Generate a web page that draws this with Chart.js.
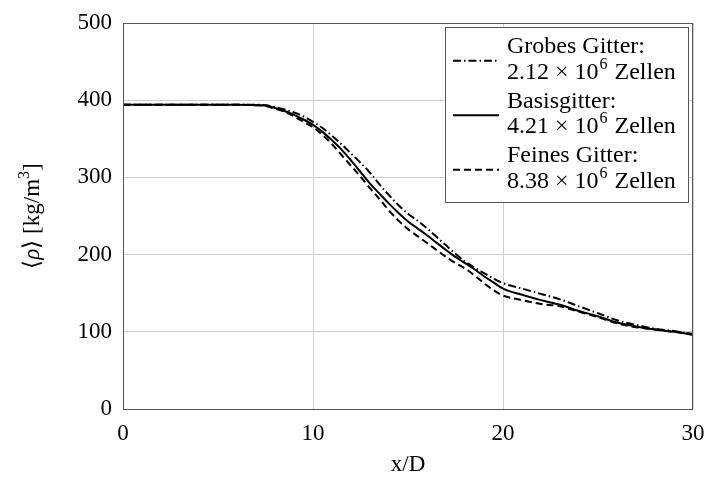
<!DOCTYPE html>
<html>
<head>
<meta charset="utf-8">
<script src="https://cdn.jsdelivr.net/npm/chart.js@4/dist/chart.umd.min.js"></script>
<style>
  html, body { margin: 0; padding: 0; background: #fff; }
  canvas { display: block; }
</style>
</head>
<body>
<canvas id="c" width="707" height="485"></canvas>
<script>
// ---- data ----
const xValues = [0, 2, 4, 6, 7, 7.5, 8, 8.5, 9, 9.5, 10, 10.5, 11, 11.5, 12, 12.5, 13, 13.5, 14, 14.5,
  15, 15.5, 16, 16.5, 17, 17.5, 18, 18.5, 19, 19.5, 20, 21, 22, 23, 24, 25, 26, 27, 28, 29, 30];
const coarseGrid = [394, 394, 394, 394, 394, 393.5, 391, 388, 384, 379, 372, 364, 354, 343, 331, 319, 306, 291, 277, 264,
  253, 244, 234, 223, 212, 201, 191, 183, 176, 169, 163, 156, 149, 142, 133, 124, 115, 109, 104, 101, 97];
const baseGrid = [394, 394, 394, 394, 393.5, 393, 390, 386, 381, 375, 368, 359, 348, 336, 322, 307, 292, 279, 266, 254,
  243, 234, 225, 215.5, 206, 197, 189, 181, 172, 164, 156, 148, 141, 135, 127, 120, 112, 107, 103, 100, 96];
const fineGrid = [394, 394, 394, 394, 393.5, 392.5, 389, 385, 379, 372, 365, 355, 343, 329, 315, 301, 286, 272, 257, 244,
  233, 224, 215, 206, 197, 189, 182, 173, 163, 154, 147, 141, 136, 133, 126, 119, 111, 106, 103, 100, 97];

const seriesNames = ['Grobes Gitter:', 'Basisgitter:', 'Feines Gitter:'];
const cellCounts = ['2.12', '4.21', '8.38'];
const cellExponent = '6';
const cellUnit = 'Zellen';
const xTicks = [0, 10, 20, 30];
const yTicks = [0, 100, 200, 300, 400, 500];
const xTitle = 'x/D';
// y title pieces: ⟨ρ⟩ [kg/m³]
const yTitleParts = [
  { t: '\u27E8', s: 'n' }, { t: '\u03C1', s: 'i' }, { t: '\u27E9 [kg/m', s: 'n' }, { t: '3', s: 'sup' }, { t: ']', s: 'n' }
];

// ---- build ----
const FONT = "'Liberation Serif', 'Times New Roman', serif";
const toPts = ys => xValues.map((x, i) => ({ x: x, y: ys[i] }));

const dashes = [[8, 3, 1.5, 3], [], [7, 4]];
const seriesData = [coarseGrid, baseGrid, fineGrid];

const datasets = seriesData.map((d, i) => ({
  label: seriesNames[i],
  data: toPts(d),
  borderColor: '#000',
  borderWidth: 2,
  borderDash: dashes[i],
  pointRadius: 0,
  cubicInterpolationMode: 'monotone',
  fill: false
}));

const frameAndLegend = {
  id: 'frameAndLegend',
  afterDraw(chart) {
    const { ctx, chartArea: a } = chart;
    ctx.save();
    // plot frame
    ctx.strokeStyle = '#555';
    ctx.lineWidth = 1;
    ctx.setLineDash([]);
    ctx.strokeRect(Math.round(a.left) + 0.5, Math.round(a.top) + 0.5,
      Math.round(a.right - a.left) - 1, Math.round(a.bottom - a.top));

    // y axis title (rotated, mixed styles)
    const fontFor = s => s === 'i' ? 'italic 23px ' + FONT : (s === 'sup' ? '16px ' + FONT : '23px ' + FONT);
    let total = 0;
    yTitleParts.forEach(p => { ctx.font = fontFor(p.s); total += ctx.measureText(p.t).width; });
    ctx.translate(33, (a.top + a.bottom) / 2);
    ctx.rotate(-Math.PI / 2);
    ctx.fillStyle = '#000';
    ctx.textBaseline = 'middle';
    ctx.textAlign = 'left';
    let px = -total / 2;
    yTitleParts.forEach(p => {
      ctx.font = fontFor(p.s);
      ctx.fillText(p.t, px, p.s === 'sup' ? -8 : 0);
      px += ctx.measureText(p.t).width;
    });
    ctx.setTransform(1, 0, 0, 1, 0, 0);

    // legend box
    const bx = a.right - 248, by = a.top + 4, bw = 243, bh = 175;
    ctx.fillStyle = '#fff';
    ctx.fillRect(bx, by, bw, bh);
    ctx.strokeStyle = '#555';
    ctx.lineWidth = 1;
    ctx.strokeRect(bx + 0.5, by + 0.5, bw, bh);
    chart.data.datasets.forEach((ds, i) => {
      const y1 = by + 20 + i * 54.5;
      const y2 = y1 + 25.5;
      const ly = (y1 + y2) / 2 + 1;
      ctx.strokeStyle = ds.borderColor;
      ctx.lineWidth = ds.borderWidth;
      ctx.setLineDash(ds.borderDash || []);
      ctx.beginPath();
      ctx.moveTo(bx + 8, ly);
      ctx.lineTo(bx + 54, ly);
      ctx.stroke();
      ctx.setLineDash([]);
      ctx.fillStyle = '#000';
      ctx.textBaseline = 'middle';
      ctx.textAlign = 'left';
      ctx.font = '24px ' + FONT;
      const tx = bx + 62;
      ctx.fillText(seriesNames[i], tx, y1);
      const part1 = cellCounts[i] + ' \u00D7 10';
      ctx.fillText(part1, tx, y2);
      let w = ctx.measureText(part1).width;
      ctx.font = '16px ' + FONT;
      ctx.fillText(cellExponent, tx + w + 1, y2 - 8);
      const we = ctx.measureText(cellExponent).width;
      ctx.font = '24px ' + FONT;
      ctx.fillText(' ' + cellUnit, tx + w + we + 2, y2);
    });
    ctx.restore();
  }
};

new Chart(document.getElementById('c'), {
  type: 'line',
  data: { datasets },
  options: {
    responsive: false,
    animation: false,
    devicePixelRatio: 1,
    layout: { padding: { top: 23, right: 14, left: 0, bottom: 0 } },
    plugins: { legend: { display: false }, tooltip: { enabled: false } },
    scales: {
      x: {
        type: 'linear', min: 0, max: 30,
        afterFit: s => { s.height = 76; s.paddingLeft = 0; s.paddingRight = 0; },
        afterBuildTicks: s => { s.ticks = xTicks.map(v => ({ value: v })); },
        ticks: { color: '#000', font: { family: FONT, size: 23 }, padding: 11, maxRotation: 0 },
        grid: { color: '#cfcfcf', lineWidth: 1, drawTicks: false },
        border: { display: false },
        title: { display: true, text: xTitle, color: '#000', font: { family: FONT, size: 23 }, padding: { top: 0, bottom: 6 } }
      },
      y: {
        type: 'linear', min: 0, max: 500,
        afterFit: s => { s.width = 123; s.paddingTop = 0; s.paddingBottom = 0; },
        afterBuildTicks: s => { s.ticks = yTicks.map(v => ({ value: v })); },
        ticks: { color: '#000', font: { family: FONT, size: 23 }, padding: 11 },
        grid: { color: '#cfcfcf', lineWidth: 1, drawTicks: false },
        border: { display: false },
        title: { display: false }
      }
    }
  },
  plugins: [frameAndLegend]
});
</script>
</body>
</html>
